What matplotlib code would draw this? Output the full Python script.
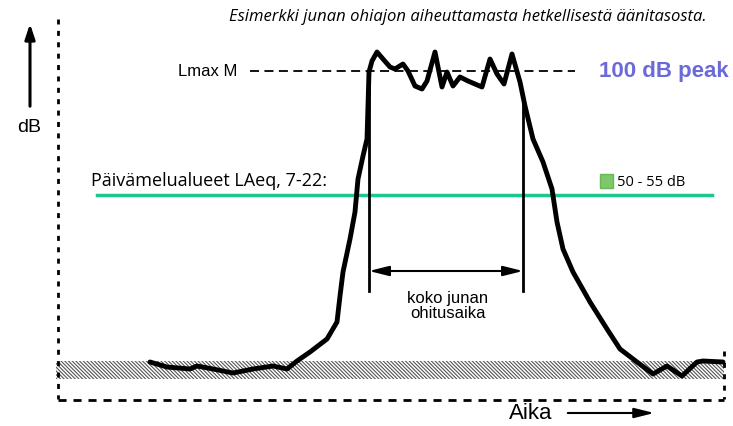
import matplotlib.pyplot as plt
import matplotlib.patches as mpatches

# curve (x = time, y = level, image coordinates)
curve_x = [150, 167, 190, 197, 213, 233, 253, 273, 287, 297, 310, 327, 337, 340, 343, 350,
           355, 358, 363, 367, 368, 369, 372, 377, 383, 390, 395, 403, 408, 415, 422, 427,
           435, 442, 447, 453, 460, 468, 475, 482, 490, 497, 504, 512, 520, 525, 533, 543,
           552, 557, 563, 573, 590, 607, 620, 637, 653, 667, 682, 697, 703, 723]
curve_y = [363, 368, 370, 367, 370, 374, 370, 367, 370, 362, 353, 340, 323, 297, 273, 240,
           213, 180, 157, 140, 107, 73, 62, 53, 60, 68, 70, 65, 72, 87, 90, 82,
           53, 88, 73, 87, 78, 82, 85, 88, 60, 75, 85, 55, 83, 107, 140, 163,
           190, 223, 250, 273, 303, 330, 350, 363, 375, 367, 377, 363, 362, 363]

lmax_y = 72
laeq_y = 196
pass_start, pass_end = 369, 523

title = "Esimerkki junan ohiajon aiheuttamasta hetkellisestä äänitasosta."
laeq_label = "Päivämelualueet LAeq, 7-22:"
range_label = "50 - 55 dB"
peak_label = "100 dB peak"
pass_label = "koko junan\nohitusaika"

plt.rcParams['font.family'] = 'Liberation Sans'
plt.rcParams['hatch.linewidth'] = 0.8

fig = plt.figure(figsize=(7.33, 4.27), dpi=100)
ax = fig.add_axes([0, 0, 1, 1])
ax.set_xlim(0, 733)
ax.set_ylim(427, 0)
ax.axis("off")

# background band
ax.add_patch(mpatches.Rectangle((56, 362), 668, 18, facecolor='white',
                                edgecolor='#555555', linewidth=0, hatch='\\' * 9))

# frame
ax.plot([58, 58], [20, 400], color='black', lw=2, ls=(0, (1.8, 2.3)))
ax.plot([58, 724], [401, 401], color='black', lw=2, ls=(0, (2.9, 2.5)))
ax.plot([724, 724], [352, 400], color='black', lw=2, ls=(0, (1.8, 2.3)))

# dB arrow
ax.annotate("", xy=(30, 22), xytext=(30, 110),
            arrowprops=dict(arrowstyle='-|>,head_width=0.3,head_length=0.9', color='black', lw=2.2))
ax.text(29, 127, "dB", ha='center', va='center', fontsize=14)

# Aika arrow
ax.text(531, 414, "Aika", ha='center', va='center', fontsize=16)
ax.annotate("", xy=(657, 414), xytext=(565, 414),
            arrowprops=dict(arrowstyle='-|>,head_width=0.3,head_length=1.2', color='black', lw=1.5))

ax.text(468, 17, title, ha='center', va='center', fontsize=12, style='italic', family='Open Sans')

# Lmax
ax.plot([250, 575], [lmax_y, lmax_y], color='black', lw=1.3, ls=(0, (5, 3)))
ax.text(208, lmax_y, "Lmax M", ha='center', va='center', fontsize=12)
ax.text(664, lmax_y, peak_label, ha='center', va='center', fontsize=16,
        fontweight='bold', color='#6a6ad8')

# LAeq
ax.plot([97, 712], [laeq_y, laeq_y], color='#1cc88c', lw=2.5)
ax.text(91, 181, laeq_label, ha='left', va='center', fontsize=13, family='Open Sans')
ax.add_patch(mpatches.Rectangle((600, 175), 13, 14, facecolor='#7cc86a', edgecolor='#6ab65a'))
ax.text(617, 183, range_label, ha='left', va='center', fontsize=10.5, family='Open Sans')

# pass time
ax.plot([pass_start, pass_start], [70, 292], color='black', lw=2)
ax.plot([pass_end, pass_end], [100, 292], color='black', lw=2)
ax.annotate("", xy=(pass_start, 272), xytext=(pass_end, 272),
            arrowprops=dict(arrowstyle='<|-|>,head_width=0.3,head_length=1.2', color='black', lw=1.5,
                            shrinkA=0, shrinkB=0))
ax.text(448, 306, pass_label, ha='center', va='center', fontsize=12, linespacing=1.0)

# curve
ax.plot(curve_x, curve_y, color='black', lw=3.5, solid_joinstyle='round', solid_capstyle='round')

fig.savefig("out.png", dpi=100)
